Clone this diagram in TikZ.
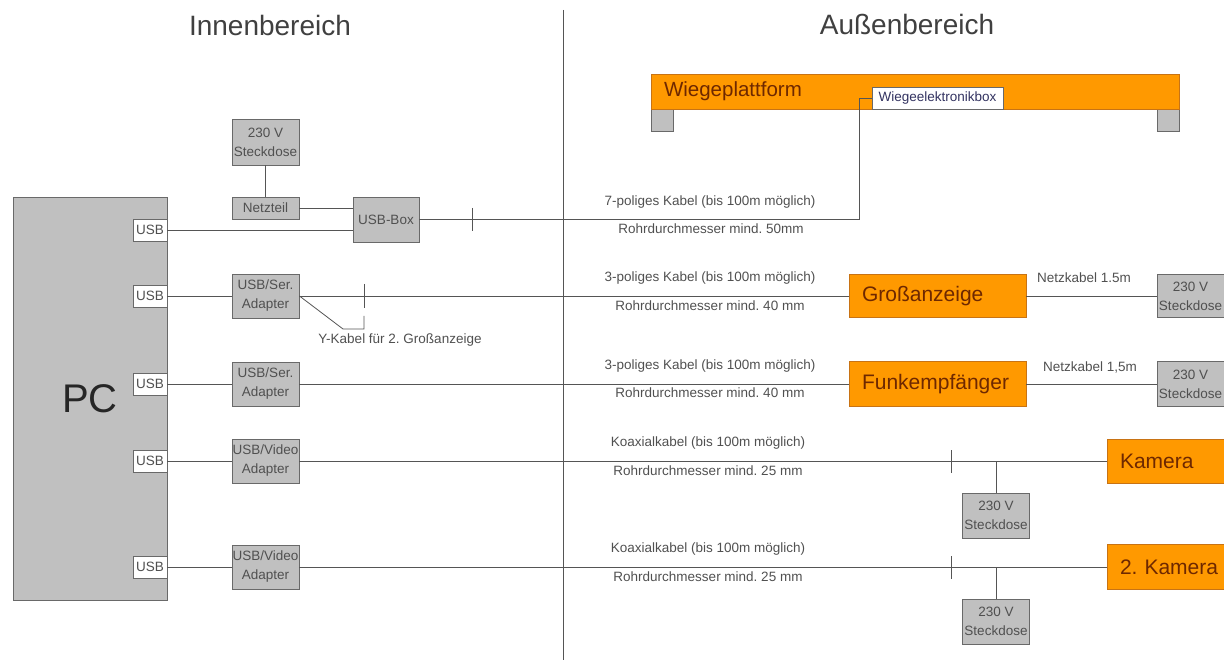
\documentclass[tikz,border=0pt]{standalone}
\usepackage{fontspec}
\setmainfont{Liberation Sans}
\usetikzlibrary{calc}
\frenchspacing
\definecolor{org}{RGB}{255,153,0}
\definecolor{orgline}{RGB}{200,115,20}
\definecolor{orgtext}{RGB}{110,40,0}
\definecolor{gfill}{RGB}{192,192,192}
\definecolor{gline}{RGB}{105,105,105}
\definecolor{txt}{RGB}{80,80,80}
\definecolor{wire}{RGB}{85,85,85}
\tikzset{
  lbl/.style={font=\fontsize{13.5}{15}\selectfont, text=txt, inner sep=0pt},
  graybox/.style={draw=gline, fill=gfill, line width=0.9pt, inner sep=0pt,
    minimum width=67pt, align=center, text=txt,
    font=\fontsize{13.5}{19}\selectfont},
  portbox/.style={draw=gline, fill=white, line width=0.8pt, inner sep=0pt,
    minimum width=34pt, minimum height=22pt, text=txt,
    font=\fontsize{13.5}{15}\selectfont},
  orangebox/.style={draw=orgline, fill=org, line width=0.9pt, inner ysep=0pt,
    inner xsep=13pt, align=left, text=orgtext,
    font=\fontsize{21}{24}\selectfont},
  foot/.style={draw=gline, fill=gfill, line width=0.9pt, inner sep=0pt,
    minimum width=22pt, minimum height=22pt},
  wire/.style={draw=wire, line width=0.8pt},
  title/.style={font=\fontsize{28}{32}\selectfont, text=black!75, inner sep=0pt}
}
\begin{document}
\begin{tikzpicture}[x=1pt,y=-1pt]
\useasboundingbox (0,0) rectangle (1224,660);
\clip (0,0) rectangle (1224,660);

% titles and divider
\node[title] (tin) at (270,25) {Innenbereich};
\node[title] (tout) at (907,24) {Außenbereich};
\coordinate (dtop) at (563,10);
\coordinate (dbot) at (563,662);
\draw[wire, line width=1pt] (dtop) -- (dbot);

% PC
\node[draw=gline, fill=gfill, line width=0.9pt, minimum width=154pt, minimum height=403pt,
      inner sep=0pt, font=\fontsize{40}{44}\selectfont, text=black!85] (pc) at (90,398.5) {PC};
\node[portbox] (u1) at (150,230) {USB};
\node[portbox] (u2) at (150,296) {USB};
\node[portbox] (u3) at (150,384) {USB};
\node[portbox] (u4) at (150,461) {USB};
\node[portbox] (u5) at (150,567) {USB};

% inside boxes
\node[graybox, minimum height=46pt] (sd0) at (265.5,142) {230 V\\Steckdose};
\node[graybox, minimum height=22pt] (nt) at (265.5,208) {Netzteil};
\node[graybox, minimum width=66pt, minimum height=45pt] (ub) at (386,219.5) {USB-Box};
\node[graybox, minimum height=44pt] (a2) at (265.5,296) {USB/Ser.\\Adapter};
\node[graybox, minimum height=44pt] (a3) at (265.5,384) {USB/Ser.\\Adapter};
\node[graybox, minimum height=44pt] (a4) at (265.5,461) {USB/Video\\Adapter};
\node[graybox, minimum height=44pt] (a5) at (265.5,567) {USB/Video\\Adapter};

% Wiegeplattform
\node[foot] (f1) at (662,120) {};
\node[foot] (f2) at (1168,120) {};
\node[orangebox, minimum width=528pt, minimum height=35pt, text width=502pt,
      font=\fontsize{20.5}{24}\selectfont, inner xsep=12pt] (wp) at (915,91.5) {Wiegeplattform};
\node[draw=gline, fill=white, line width=0.8pt, minimum width=131pt, minimum height=22pt,
      inner sep=0pt, font=\fontsize{13.5}{15}\selectfont, text=black!70!blue!60!gray] (wb) at (937.5,98) {Wiegeelektronikbox};

% outside boxes
\node[orangebox, minimum width=177pt, minimum height=43pt, text width=151pt] (ga) at (937.5,296) {Großanzeige};
\node[orangebox, minimum width=177pt, minimum height=45pt, text width=151pt] (fe) at (937.5,384) {Funkempfänger};
\node[graybox, minimum height=43pt] (sd2) at (1190.5,296) {230 V\\Steckdose};
\node[graybox, minimum height=45pt] (sd3) at (1190.5,384) {230 V\\Steckdose};
\node[orangebox, minimum width=128pt, minimum height=44pt, text width=102pt] (k1) at (1171,461) {Kamera};
\node[orangebox, minimum width=128pt, minimum height=45pt, text width=102pt] (k2) at (1171,567) {2. Kamera};
\node[graybox, minimum height=45pt] (sd4) at (996,515.5) {230 V\\Steckdose};
\node[graybox, minimum height=45pt] (sd5) at (996,621.5) {230 V\\Steckdose};

% row 1
\draw[wire] (sd0.south) -- (nt.north);
\draw[wire] (nt.east) -- (nt.east -| ub.west);
\draw[wire] (u1.east) -- (u1.east -| ub.west);
\coordinate (wc) at (859,98);
\draw[wire] (ub.east) -| (wc) -- (wb.west);
\coordinate (t1a) at (472,208);
\coordinate (t1b) at (472,231);
\draw[wire] (t1a) -- (t1b);
\node[lbl] (l1a) at (710,202) {7-poliges Kabel (bis 100m möglich)};
\node[lbl] (l1b) at (711,229) {Rohrdurchmesser mind. 50mm};

% row 2
\draw[wire] (u2.east) -- (a2.west);
\draw[wire] (a2.east) -- (ga.west);
\draw[wire] (ga.east) -- (sd2.west);
\coordinate (t2a) at (364,284);
\coordinate (t2b) at (364,308);
\draw[wire] (t2a) -- (t2b);
\coordinate (y1) at (343,329);
\coordinate (y2) at (364,329);
\coordinate (y3) at (364,316);
\draw[wire] (a2.east) -- (y1) -- (y2) -- (y3);
\node[lbl] (ly) at (400,340) {Y-Kabel für 2. Großanzeige};
\node[lbl] (l2a) at (710,278) {3-poliges Kabel (bis 100m möglich)};
\node[lbl] (l2b) at (710,306) {Rohrdurchmesser mind. 40 mm};
\node[lbl] (n2) at (1084,278) {Netzkabel 1.5m};

% row 3
\draw[wire] (u3.east) -- (a3.west);
\draw[wire] (a3.east) -- (fe.west);
\draw[wire] (fe.east) -- (sd3.west);
\node[lbl] (l3a) at (710,366) {3-poliges Kabel (bis 100m möglich)};
\node[lbl] (l3b) at (710,393) {Rohrdurchmesser mind. 40 mm};
\node[lbl] (n3) at (1090,367) {Netzkabel 1,5m};

% row 4
\draw[wire] (u4.east) -- (a4.west);
\draw[wire] (a4.east) -- (k1.west);
\coordinate (t4a) at (951,450);
\coordinate (t4b) at (951,473);
\draw[wire] (t4a) -- (t4b);
\draw[wire] (sd4.north) -- (sd4.north |- k1.west);
\node[lbl] (l4a) at (708,443) {Koaxialkabel (bis 100m möglich)};
\node[lbl] (l4b) at (708,471) {Rohrdurchmesser mind. 25 mm};

% row 5
\draw[wire] (u5.east) -- (a5.west);
\draw[wire] (a5.east) -- (k2.west);
\coordinate (t5a) at (951,556);
\coordinate (t5b) at (951,579);
\draw[wire] (t5a) -- (t5b);
\draw[wire] (sd5.north) -- (sd5.north |- k2.west);
\node[lbl] (l5a) at (708,549) {Koaxialkabel (bis 100m möglich)};
\node[lbl] (l5b) at (708,577) {Rohrdurchmesser mind. 25 mm};
\end{tikzpicture}
\end{document}
